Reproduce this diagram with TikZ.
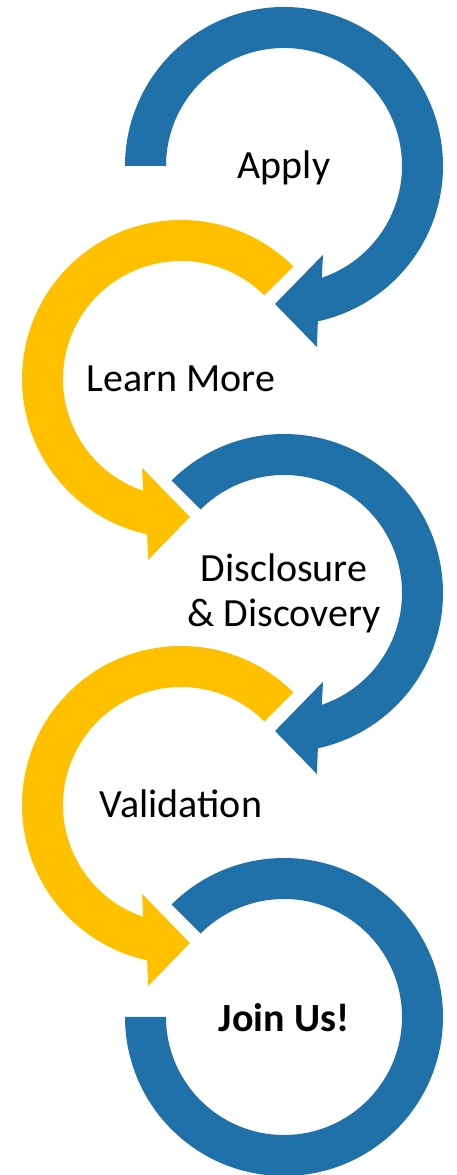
\documentclass[tikz,border=0pt]{standalone}
\usepackage{fontspec}
\setmainfont{Carlito}
\definecolor{arcblue}{RGB}{32,112,169}
\definecolor{arcyellow}{RGB}{255,192,0}

\begin{document}
\begin{tikzpicture}[x=1pt,y=1pt]
  \tikzstyle{bluearc}=[fill=arcblue]
  \tikzstyle{yellowarc}=[fill=arcyellow]
  \tikzstyle{steplabel}=[font=\fontsize{40}{45}\selectfont,inner sep=0pt,anchor=base,align=center]

  \useasboundingbox (0,0) rectangle (457,1175);

    \coordinate (c1) at (284,1009);
    \coordinate (c2) at (181,796);
    \coordinate (c3) at (284,582);
    \coordinate (c4) at (181,370);
    \coordinate (c5) at (284,158);

    % blue arrows turn clockwise, yellow ones the other way
    \begin{scope}[shift={(c1)}]
      \path[bluearc] (180:159) arc[start angle=180, end angle=-77.7, radius=159]
        -- (-79.7:184) -- (-93.7:138.3) -- (-66.3:97) -- (-71.3:118)
        arc[start angle=-71.3, end angle=180, radius=118] -- cycle;
    \end{scope}
    \begin{scope}[shift={(c2)}]
      \path[yellowarc] (45:159) arc[start angle=45, end angle=257.7, radius=159]
        -- (259.7:184) -- (273.7:138.3) -- (246.3:97) -- (251.3:118)
        arc[start angle=251.3, end angle=45, radius=118] -- cycle;
    \end{scope}
    \begin{scope}[shift={(c3)}]
      \path[bluearc] (135:159) arc[start angle=135, end angle=-77.7, radius=159]
        -- (-79.7:184) -- (-93.7:138.3) -- (-66.3:97) -- (-71.3:118)
        arc[start angle=-71.3, end angle=135, radius=118] -- cycle;
    \end{scope}
    \begin{scope}[shift={(c4)}]
      \path[yellowarc] (45:159) arc[start angle=45, end angle=257.7, radius=159]
        -- (259.7:184) -- (273.7:138.3) -- (246.3:97) -- (251.3:118)
        arc[start angle=251.3, end angle=45, radius=118] -- cycle;
    \end{scope}
    \begin{scope}[shift={(c5)}]
      \path[bluearc] (135:159) arc[start angle=135, end angle=-180, radius=159]
        -- (180:118) arc[start angle=-180, end angle=135, radius=118] -- cycle;
    \end{scope}

    \node[steplabel] (apply) at (284,996) {Apply};
    \node[steplabel] (learn) at (181,783) {Learn More};
    \node[steplabel] (disclose) at (284,548) {Disclosure\\\& Discovery};
    \node[steplabel] (validate) at (181,357) {Validation};
    \node[steplabel,font=\fontsize{40}{45}\selectfont\bfseries] (join) at (284,143) {Join Us!};
\end{tikzpicture}
\end{document}
